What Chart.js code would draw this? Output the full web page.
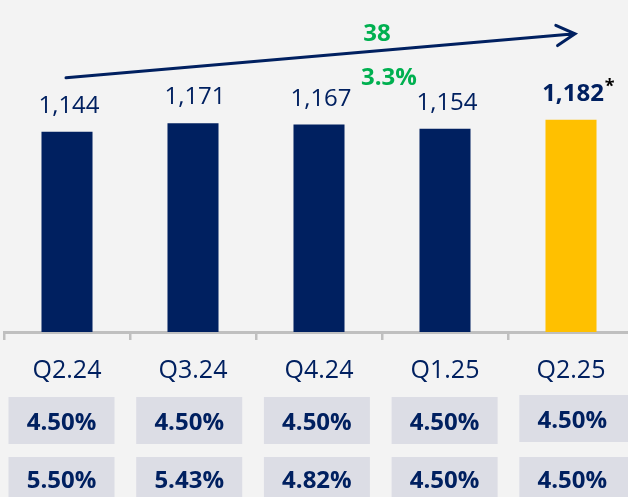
<!DOCTYPE html>
<html>
<head>
<meta charset="utf-8">
<script src="https://cdn.jsdelivr.net/npm/chart.js@4.4.1/dist/chart.umd.min.js"></script>
<style>
    html, body { margin: 0; padding: 0; background: #f3f3f3; overflow: hidden; }
    #wrap { width: 634px; height: 497px; }
</style>
</head>
<body>
<div id="wrap"><canvas id="chart1"></canvas></div>
<script>
var quarters = ["Q2.24", "Q3.24", "Q4.24", "Q1.25", "Q2.25"];
var volumes = [1144, 1171, 1167, 1154, 1182];
var rateRow1 = ["4.50%", "4.50%", "4.50%", "4.50%", "4.50%"];
var rateRow2 = ["5.50%", "5.43%", "4.82%", "4.50%", "4.50%"];
var changeAbs = "38";
var changePct = "3.3%";

var navy = '#002060';
var yellow = '#ffc000';
var green = '#00b050';
var boxGrey = '#dcdde5';

var barColors = volumes.map(function (v, i) {
    return i === volumes.length - 1 ? yellow : navy;
});

// labels, growth arrow and the rate rows under the axis
var extras = {
    id: 'extras',
    afterDatasetsDraw: function (chart) {
        var ctx = chart.ctx;
        var bars = chart.getDatasetMeta(0).data;
        var last = bars.length - 1;
        ctx.save();
        ctx.textAlign = 'center';
        ctx.textBaseline = 'alphabetic';

        // value labels
        bars.forEach(function (bar, i) {
            ctx.font = (i === last ? 'bold ' : '') + '24px "Open Sans"';
            ctx.fillStyle = navy;
            var txt = volumes[i].toLocaleString('en-US');
            ctx.fillText(txt, bar.x + 2, bar.y - 19);
            if (i === last) {
                var w = ctx.measureText(txt).width;
                ctx.font = 'bold 18px "Open Sans"';
                ctx.fillStyle = '#000';
                ctx.textAlign = 'left';
                ctx.fillText('*', bar.x + 2 + w / 2 + 1, bar.y - 28);
                ctx.textAlign = 'center';
            }
        });

        // arrow
        var x0 = bars[0].x - 1, y0 = bars[0].y - 54;
        var x1 = bars[last].x + 4, y1 = bars[last].y - 86;
        ctx.strokeStyle = navy;
        ctx.lineWidth = 3;
        ctx.lineCap = 'round';
        ctx.beginPath();
        ctx.moveTo(x0, y0);
        ctx.lineTo(x1, y1);
        var ang = Math.atan2(y0 - y1, x0 - x1);
        var spread = 29 * Math.PI / 180;
        ctx.moveTo(x1 + 21 * Math.cos(ang + spread), y1 + 21 * Math.sin(ang + spread));
        ctx.lineTo(x1, y1);
        ctx.lineTo(x1 + 21 * Math.cos(ang - spread), y1 + 21 * Math.sin(ang - spread));
        ctx.stroke();

        // growth labels
        var mid = (bars[2].x + bars[3].x) / 2;
        var lineY = function (x) { return y0 + (y1 - y0) * (x - x0) / (x1 - x0); };
        ctx.fillStyle = green;
        ctx.font = 'bold 24px "Open Sans"';
        ctx.fillText(changeAbs, mid - 5, lineY(mid - 5) - 10);
        ctx.fillText(changePct, mid + 7, lineY(mid + 7) + 35);

        // rate rows (table is spaced a bit wider than the bars)
        var base = chart.chartArea.bottom;
        var rows = [rateRow1, rateRow2];
        var rowTop = [65, 125];
        var rowText = [33, 31];
        rows.forEach(function (row, r) {
            bars.forEach(function (bar, i) {
                var cx = bar.x - 5.5 + i * 1.7;
                var w = i === last ? 112 : 106;
                ctx.fillStyle = boxGrey;
                ctx.fillRect(cx - 53, base + rowTop[r] - (i === last && r === 0 ? 2 : 0), w, 47);
                ctx.fillStyle = navy;
                ctx.font = 'bold 24px "Open Sans"';
                ctx.fillText(row[i], cx, base + rowTop[r] + rowText[r] - (i === last && r === 0 ? 2 : 0));
            });
        });
        ctx.restore();
    }
};

var chart = new Chart(document.getElementById('chart1'), {
    type: 'bar',
    data: {
        labels: quarters,
        datasets: [{
            data: volumes,
            backgroundColor: barColors,
            categoryPercentage: 1,
            barPercentage: 0.405
        }]
    },
    options: {
        responsive: true,
        maintainAspectRatio: false,
        animation: false,
        layout: { padding: { left: 4, top: 51, right: 0, bottom: 0 } },
        plugins: {
            legend: { display: false },
            tooltip: { enabled: false }
        },
        scales: {
            y: { display: false, min: 510, max: 1400 },
            x: {
                afterFit: function (scale) { scale.height = 165; },
                border: { display: true, color: '#bfbfbf', width: 3 },
                grid: {
                    display: true,
                    drawOnChartArea: false,
                    drawTicks: true,
                    tickLength: 8,
                    color: '#bfbfbf',
                    lineWidth: 2.5
                },
                ticks: {
                    color: navy,
                    padding: 16,
                    font: { family: 'Open Sans', size: 25 }
                }
            }
        }
    },
    plugins: [extras]
});
</script>
</body>
</html>
